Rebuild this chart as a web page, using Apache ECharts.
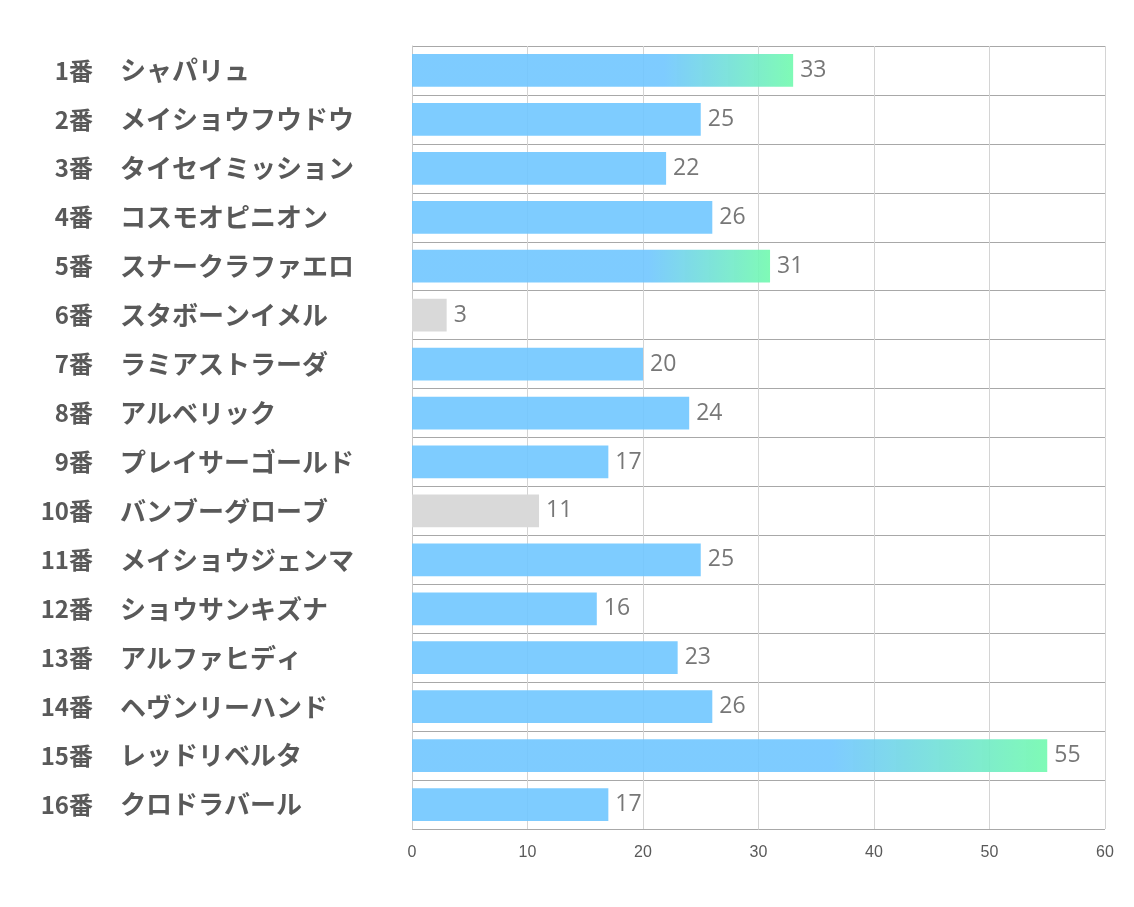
<!DOCTYPE html>
<html><head><meta charset="utf-8">
<script src="https://cdn.jsdelivr.net/npm/echarts@6/dist/echarts.min.js"></script>
<style>html,body{margin:0;padding:0;background:#fff}#c{width:1134px;height:907px}</style>
</head><body><div id="c"></div>
<script>
const numbers = ['1番','2番','3番','4番','5番','6番','7番','8番','9番','10番','11番','12番','13番','14番','15番','16番'];
const names = ['シャパリュ','メイショウフウドウ','タイセイミッション','コスモオピニオン','スナークラファエロ','スタボーンイメル','ラミアストラーダ','アルベリック','プレイサーゴールド','バンブーグローブ','メイショウジェンマ','ショウサンキズナ','アルファヒディ','ヘヴンリーハンド','レッドリベルタ','クロドラバール'];
const values = [33,25,22,26,31,3,20,24,17,11,25,16,23,26,55,17];
const xTicks = [0,10,20,30,40,50,60];

const sorted = values.slice().sort((a,b)=>b-a);
const topCut = sorted[2], lowCut = sorted[sorted.length-2];
const blue = 'rgba(112,198,255,0.9)';
function colorFor(v){
  if (v >= topCut) return new echarts.graphic.LinearGradient(0,0,1,0,[
    {offset:0,color:blue},{offset:0.66,color:blue},{offset:1,color:'rgba(116,250,176,0.92)'}]);
  if (v <= lowCut) return '#d9d9d9';
  return blue;
}
const labelFont = {fontWeight:'bold',color:'#595959',fontFamily:'Noto Sans CJK JP'};
const chart = echarts.init(document.getElementById('c'));
chart.setOption({
  animation:false,
  grid:{left:412,right:29,top:46,bottom:78,containLabel:false},
  xAxis:{type:'value',min:xTicks[0],max:xTicks[xTicks.length-1],interval:10,
    axisLine:{show:false},axisTick:{show:false},
    axisLabel:{color:'#595959',fontSize:16,fontFamily:'Liberation Sans Narrow, Liberation Sans, sans-serif',margin:16},
    splitLine:{show:true,lineStyle:{color:'#d4d4d4',width:1}}},
  yAxis:[
    {type:'category',inverse:true,data:numbers,position:'left',
      axisLine:{show:true,lineStyle:{color:'#c8c8c8'}},axisTick:{show:false},
      splitLine:{show:true,lineStyle:{color:'#a8a8a8',width:1}},
      axisLabel:Object.assign({align:'right',margin:319,fontSize:24},labelFont)},
    {type:'category',inverse:true,data:names,position:'left',offset:0,
      axisLine:{show:false},axisTick:{show:false},splitLine:{show:false},
      axisLabel:Object.assign({align:'left',margin:292,fontSize:26},labelFont)}
  ],
  series:[{type:'bar',barWidth:'67%',yAxisIndex:0,
    data:values.map(v=>({value:v,itemStyle:{color:colorFor(v)}})),
    label:{show:true,position:'right',distance:7,color:'#777777',fontSize:23,fontFamily:'Open Sans, sans-serif'}
  }]
});
</script></body></html>
